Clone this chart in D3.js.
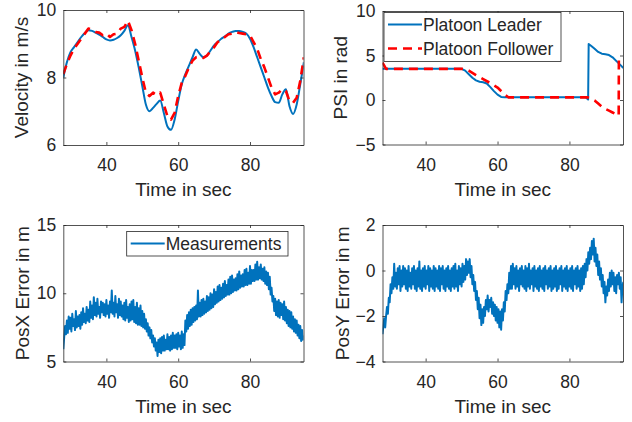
<!DOCTYPE html>
<html>
<head>
<meta charset="utf-8">
<script src="https://cdn.jsdelivr.net/npm/d3@7/dist/d3.min.js"></script>
<style>
  body { margin: 0; background: #fff; }
  svg text { font-family: "Liberation Sans", Arial, sans-serif; fill: #262626; }
</style>
</head>
<body>
<svg id="chart" width="632" height="422"></svg>
<script>
// ---- data ----
var timeTicks = [40, 60, 80];

// velocity (1 s steps, 28..95)
var velTime = d3.range(28, 96, 1);
var velLeader = [8.0, 8.45, 8.75, 8.9, 9.05, 9.2, 9.32, 9.4, 9.38, 9.33, 9.27, 9.2, 9.13, 9.1, 9.12, 9.17, 9.25, 9.38,
  9.55, 9.2, 8.8, 8.3, 7.75, 7.2, 7.0, 7.1, 7.22, 7.32, 6.95, 6.55, 6.45, 6.75, 7.3, 7.8, 8.1, 8.35, 8.6, 8.83,
  8.7, 8.6, 8.65, 8.8, 8.95, 9.05, 9.15, 9.22, 9.3, 9.35, 9.38, 9.38, 9.35, 9.3, 9.15, 8.9, 8.6, 8.3, 8.0, 7.7,
  7.45, 7.27, 7.25, 7.5, 7.65, 7.15, 6.92, 7.2, 7.8, 8.45];
var velFollower = [8.1, 8.4, 8.65, 8.85, 9.0, 9.15, 9.3, 9.45, 9.42, 9.35, 9.33, 9.25, 9.3, 9.2, 9.28, 9.3, 9.45, 9.5,
  9.68, 9.4, 9.0, 8.5, 8.0, 7.55, 7.45, 7.55, 7.48, 7.55, 7.2, 6.85, 6.75, 6.95, 7.45, 7.85, 8.05, 8.3, 8.5, 8.6,
  8.62, 8.58, 8.65, 8.78, 8.9, 9.05, 9.12, 9.2, 9.28, 9.3, 9.35, 9.32, 9.3, 9.28, 9.25, 9.05, 8.85, 8.55, 8.3, 8.0,
  7.7, 7.5, 7.55, 7.65, 7.6, 7.3, 7.25, 7.4, 7.9, 8.6];
var velTicks = [6, 8, 10];

// heading
var psiLeaderTime = [28, 50, 51, 52, 53, 54, 55, 56, 57, 58, 59, 60, 61, 62, 84.5, 85.2, 85.35, 86, 87, 88, 89, 90, 91, 92, 93, 94, 95];
var psiLeader = [3.5, 3.5, 3.3, 2.9, 2.5, 2.2, 2.05, 2.0, 1.85, 1.45, 1.0, 0.6, 0.35, 0.3, 0.3, 0.05, 6.3, 6.1, 5.75, 5.4, 5.2, 5.15, 5.05, 4.8, 4.4, 4.0, 3.6];
var psiFollowerTime = [28, 29, 51, 52, 54, 56, 58, 60, 62, 63, 85, 86, 87, 88, 89, 90, 91, 92, 93, 93.7, 93.75];
var psiFollower = [4.2, 3.5, 3.5, 3.3, 2.8, 2.35, 1.9, 1.4, 0.6, 0.3, 0.3, 0.15, -0.05, -0.4, -0.75, -1.0, -1.2, -1.4, -1.6, -1.75, 4.8];
var psiTicks = [-5, 0, 5, 10];

// position errors (0.25 s steps, 28..95), one row per second
var posTime = d3.range(28, 95.01, 0.25);
var posX = [
  5.9, 6.8, 7.6, 7.0,  8.0, 7.1, 8.3, 7.4,  8.2, 7.2, 8.5, 7.6,  8.1, 7.3, 8.7, 7.5,  8.3, 7.6, 8.4, 7.4,
  8.6, 7.7, 8.9, 7.9,  8.5, 7.8, 9.0, 8.0,  8.8, 7.9, 9.4, 8.2,  9.1, 8.1, 9.7, 8.4,  9.3, 8.3, 9.6, 8.5,
  9.0, 8.2, 9.4, 8.6,  9.3, 8.4, 9.2, 8.3,  9.5, 8.5, 9.1, 8.2,  9.4, 8.6, 10.2, 8.5, 9.3, 8.3, 9.8, 8.6,
  9.2, 8.2, 9.6, 8.4,  9.4, 8.3, 9.1, 8.1,  9.3, 8.0, 9.5, 8.2,  9.0, 7.9, 9.2, 8.0,  9.4, 8.1, 9.5, 7.9,
  9.0, 7.8, 9.3, 7.7,  8.9, 7.7, 9.1, 7.6,  8.7, 7.5, 8.5, 7.4,  8.1, 7.2, 7.8, 6.9,  7.5, 6.7, 7.3, 6.4,
  6.9, 6.1, 6.7, 5.8,  6.4, 5.4, 6.6, 5.7,  6.7, 5.6, 6.8, 5.8,  6.9, 5.8, 6.6, 5.9,  7.0, 5.9, 6.8, 5.8,
  6.9, 5.9, 7.1, 6.0,  6.9, 6.0, 7.0, 5.9,  7.1, 6.1, 6.9, 5.9,  7.2, 6.0, 7.0, 6.2,  8.0, 7.2, 8.4, 7.4,
  8.6, 7.6, 8.8, 7.7,  8.9, 7.9, 9.0, 8.0,  9.1, 8.1, 10.2, 8.3, 9.3, 8.3, 9.5, 8.4,  9.6, 8.5, 9.4, 8.6,
  9.8, 8.7, 9.7, 8.8,  10.0, 8.9, 9.9, 9.0, 10.3, 9.2, 10.1, 9.3, 10.5, 9.4, 10.6, 9.5, 10.4, 9.6, 10.7, 9.7,
  10.9, 9.8, 10.6, 9.9, 11.0, 9.9, 11.2, 10.0, 11.3, 10.1, 11.0, 10.2, 11.1, 10.2, 11.4, 10.3, 11.6, 10.4, 11.3, 10.5,
  11.4, 10.5, 11.7, 10.6, 11.8, 10.6, 11.5, 10.7, 12.0, 10.7, 11.7, 10.9, 11.7, 10.9, 12.1, 11.0, 12.3, 11.0, 11.9, 11.1,
  12.1, 11.0, 11.8, 10.9, 11.9, 10.7, 11.6, 10.6, 11.5, 10.3, 11.2, 9.9, 10.4, 9.4, 9.8, 8.7,  9.6, 8.4, 9.4, 8.3,
  9.5, 8.2, 9.3, 8.4,  9.2, 8.1, 9.4, 8.0,  9.0, 7.8, 8.8, 7.6,  8.7, 7.5, 8.6, 7.4,  8.3, 7.2, 8.1, 7.1,
  8.0, 6.9, 7.7, 6.7,  7.6, 6.5, 7.3, 6.6,  6.9];
var posXTicks = [5, 10, 15];
var posY = [
  -2.8, -2.4, -2.1, -2.5,  -2.0, -1.6, -1.9, -1.2,  -1.4, -0.6, -1.0, -0.3,  -0.8, 0.3, -0.7, -0.1,  -0.8, 0.1, -0.6, 0.2,
  -0.9, 0.0, -0.7, 0.2,  -0.6, 0.1, -0.8, 0.0,  -0.9, 0.2, -0.7, -0.1,  -0.8, 0.1, -0.6, 0.2,  -0.8, 0.0, -0.9, 0.1,
  -0.7, 0.4, -0.8, 0.0,  -0.9, 0.1, -0.7, 0.2,  -0.8, 0.0, -0.6, 0.2,  -0.9, 0.1, -0.7, 0.0,  -0.8, 0.2, -0.9, 0.1,
  -0.7, 0.0, -0.8, 0.2,  -0.9, 0.1, -0.6, 0.2,  -0.8, 0.0, -0.9, 0.1,  -0.7, 0.2, -0.8, 0.0,  -0.9, 0.1, -0.7, 0.2,
  -0.8, 0.3, -0.7, 0.0,  -0.9, 0.2, -0.6, 0.1,  -0.7, 0.3, -0.5, 0.2,  -0.4, 0.5, -0.2, 0.4,  -0.1, 0.5, -0.3, 0.2,
  -0.6, -0.2, -0.9, -0.5,  -1.3, -0.9, -1.7, -1.2,  -2.1, -1.5, -2.4, -1.7,  -2.3, -1.6, -2.0, -1.3,  -1.7, -1.1, -1.8, -1.3,
  -1.6, -1.2, -1.9, -1.4,  -2.0, -1.5, -2.2, -1.6,  -2.3, -1.7, -2.5, -1.8,  -2.6, -1.7, -2.2, -1.4,  -1.8, -0.9, -1.3, -0.6,
  -1.0, -0.1, -0.8, 0.2,  -0.8, 0.3, -0.6, 0.1,  -0.8, 0.2, -0.7, 0.0,  -0.9, 0.1, -0.6, 0.2,  -0.7, 0.0, -0.8, 0.2,
  -0.9, 0.1, -0.7, 0.3,  -0.8, 0.0, -0.6, 0.1,  -0.9, 0.2, -0.7, 0.0,  -0.8, 0.1, -0.9, 0.2,  -0.7, 0.0, -0.8, 0.1,
  -0.9, 0.2, -0.6, 0.0,  -0.8, 0.1, -0.7, 0.2,  -0.9, 0.0, -0.8, 0.1,  -0.7, 0.2, -0.9, 0.0,  -0.8, 0.1, -0.6, 0.2,
  -0.9, 0.0, -0.7, 0.1,  -0.8, 0.2, -0.9, 0.0,  -0.7, 0.1, -0.8, 0.2,  -0.9, 0.0, -0.6, 0.1,  -0.8, 0.2, -0.7, 0.0,
  -0.9, 0.1, -0.8, 0.2,  -0.6, 0.3, -0.3, 0.5,  0.0, 0.8, 0.3, 1.0,  0.5, 1.3, 0.7, 1.4,  0.4, 1.0, 0.2, 0.7,
  -0.2, 0.4, -0.4, 0.1,  -0.7, -0.2, -1.0, -0.5,  -1.4, -0.7, -1.1, -0.4,  -0.9, -0.1, -0.7, 0.0,  -0.6, -0.1, -0.9, -0.3,
  -1.0, -0.2, -0.6, -0.1,  -0.8, -0.3, -1.4, -0.7,  -0.5];
var posYTicks = [-4, -2, 0, 2];

var blue = '#0072bd', red = '#ff0000', ink = '#262626';
var svg = d3.select('#chart');

function drawPanel(p, idx) {
  var x = d3.scaleLinear().domain([28, 94.9]).range([p.left, p.right]);
  var y = d3.scaleLinear().domain(p.yDomain).range([p.bottom, p.top]);
  var g = svg.append('g');

  g.append('clipPath').attr('id', 'clip' + idx)
    .append('rect')
    .attr('x', p.left).attr('y', p.top)
    .attr('width', p.right - p.left).attr('height', p.bottom - p.top);

  var plot = g.append('g').attr('clip-path', 'url(#clip' + idx + ')');
  p.series.forEach(function(s) {
    var line = d3.line()
      .x(function(d, i) { return x(s.t[i]); })
      .y(function(d) { return y(d); });
    if (s.smooth) line.curve(d3.curveMonotoneX);
    plot.append('path')
      .attr('d', line(s.v))
      .attr('fill', 'none')
      .attr('stroke', s.color)
      .attr('stroke-width', s.width)
      .attr('stroke-dasharray', s.dash || null)
      .attr('stroke-linejoin', 'round');
  });

  // axes, ticks pointing inwards on all four sides
  var fmt = d3.format('d');
  var bottomAxis = d3.axisBottom(x).tickValues(timeTicks).tickFormat(fmt).tickSizeInner(-3).tickSizeOuter(0).tickPadding(14);
  var leftAxis = d3.axisLeft(y).tickValues(p.yTicks).tickFormat(fmt).tickSizeInner(-3).tickSizeOuter(0).tickPadding(7);
  var topAxis = d3.axisTop(x).tickValues(timeTicks).tickSizeInner(-3).tickSizeOuter(0).tickFormat('');
  var rightAxis = d3.axisRight(y).tickValues(p.yTicks).tickSizeInner(-3).tickSizeOuter(0).tickFormat('');

  var axes = [
    [bottomAxis, 'translate(0,' + p.bottom + ')'],
    [leftAxis, 'translate(' + p.left + ',0)'],
    [topAxis, 'translate(0,' + p.top + ')'],
    [rightAxis, 'translate(' + p.right + ',0)']
  ];
  axes.forEach(function(a) {
    var ax = g.append('g').attr('transform', a[1]).call(a[0]);
    ax.selectAll('path, line').attr('stroke', ink).attr('stroke-width', 0.8);
    ax.selectAll('text').attr('font-size', 17.5).style('font-family', '"Liberation Sans", Arial, sans-serif').attr('fill', ink);
  });

  g.append('text')
    .attr('x', (p.left + p.right) / 2)
    .attr('y', p.bottom + 51)
    .attr('text-anchor', 'middle')
    .attr('font-size', 19)
    .text('Time in sec');

  g.append('text')
    .attr('transform', 'translate(' + p.labelX + ',' + (p.top + p.bottom) / 2 + ') rotate(-90)')
    .attr('text-anchor', 'middle')
    .attr('font-size', 19)
    .text(p.yLabel);

  if (p.legend) {
    var L = p.legend;
    var lg = g.append('g');
    lg.append('rect')
      .attr('x', L.x).attr('y', L.y).attr('width', L.w).attr('height', L.h)
      .attr('fill', '#fff').attr('stroke', ink).attr('stroke-width', 0.8);
    L.items.forEach(function(it, i) {
      var cy = L.y + 12 + i * 24;
      lg.append('line')
        .attr('x1', L.x + 4).attr('x2', L.x + 38)
        .attr('y1', cy).attr('y2', cy)
        .attr('stroke', it.color).attr('stroke-width', it.width)
        .attr('stroke-dasharray', it.dash || null);
      lg.append('text')
        .attr('x', L.x + 39).attr('y', cy + 6.5)
        .attr('font-size', 17.5)
        .text(it.label);
    });
  }
}

var panels = [
  {
    left: 63.3, right: 303.5, top: 10, bottom: 145, yDomain: [6, 10], yTicks: velTicks,
    yLabel: 'Velocity in m/s', labelX: 28,
    series: [
      { t: velTime, v: velLeader, color: blue, width: 2, smooth: true },
      { t: velTime, v: velFollower, color: red, width: 2.6, dash: '9,6' }
    ]
  },
  {
    left: 382.5, right: 623, top: 11, bottom: 144.5, yDomain: [-5, 10], yTicks: psiTicks,
    yLabel: 'PSI in rad', labelX: 347,
    series: [
      { t: psiLeaderTime, v: psiLeader, color: blue, width: 2 },
      { t: psiFollowerTime, v: psiFollower, color: red, width: 2.6, dash: '9,6' }
    ],
    legend: { x: 384, y: 12.5, w: 177, h: 49, items: [
      { label: 'Platoon Leader', color: blue, width: 2 },
      { label: 'Platoon Follower', color: red, width: 2.6, dash: '9,6' }
    ] }
  },
  {
    left: 63.3, right: 303.5, top: 225, bottom: 361.5, yDomain: [5, 15], yTicks: posXTicks,
    yLabel: 'PosX Error in m', labelX: 29,
    series: [ { t: posTime, v: posX, color: blue, width: 2 } ],
    legend: { x: 126.7, y: 231.5, w: 161.3, h: 24.5, items: [
      { label: 'Measurements', color: blue, width: 2 }
    ] }
  },
  {
    left: 382.5, right: 623, top: 225, bottom: 361.5, yDomain: [-4, 2], yTicks: posYTicks,
    yLabel: 'PosY Error in m', labelX: 349,
    series: [ { t: posTime, v: posY, color: blue, width: 2 } ]
  }
];

panels.forEach(drawPanel);
</script>
</body>
</html>
